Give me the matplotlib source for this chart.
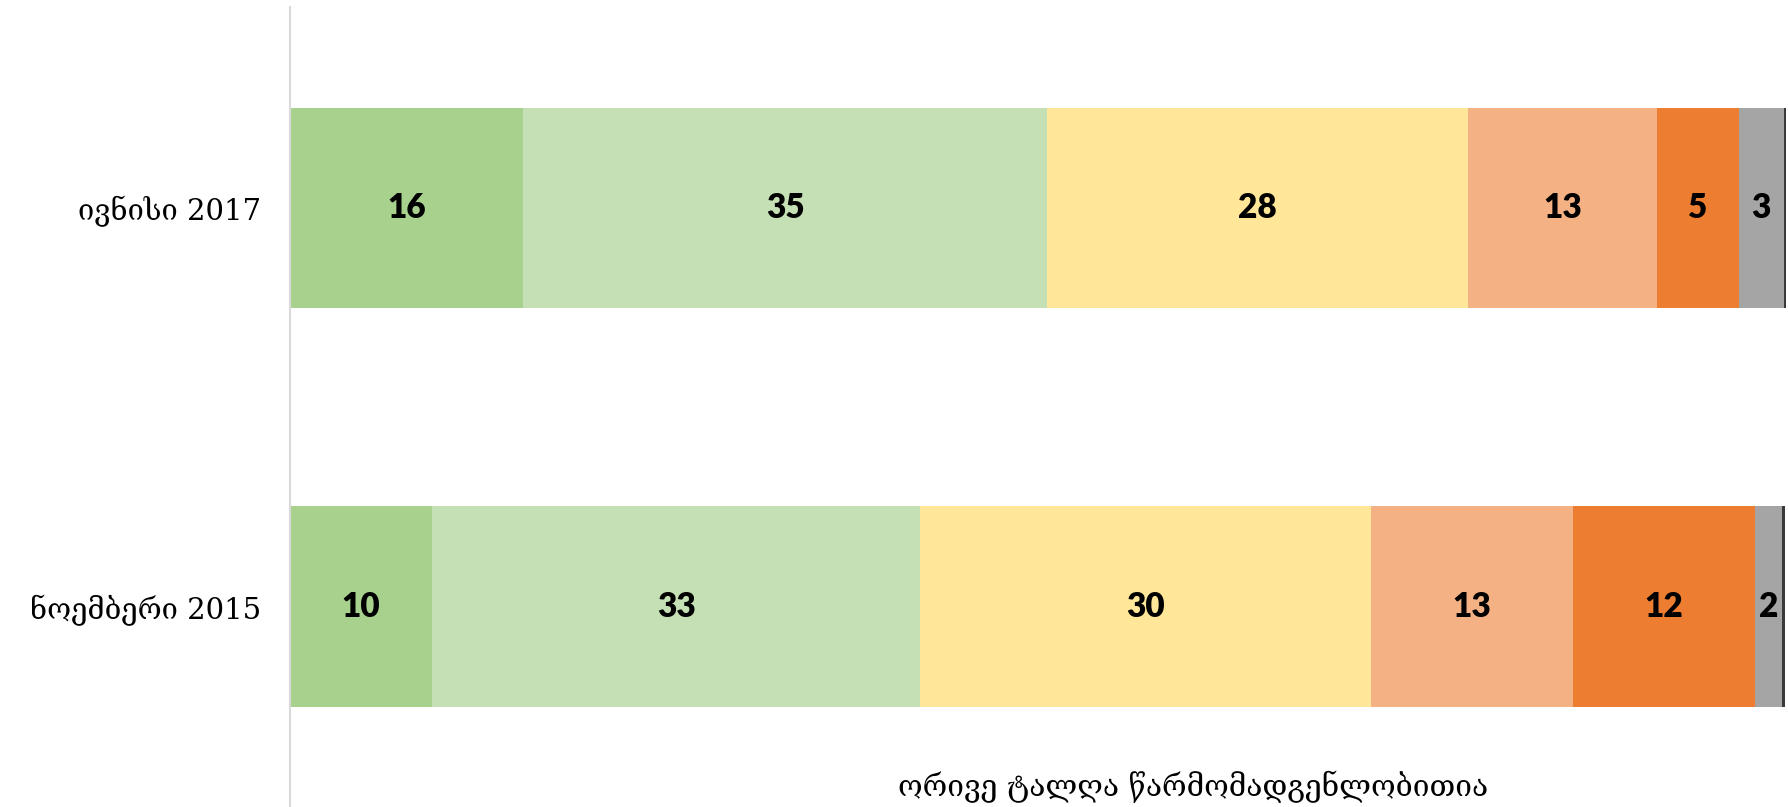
import matplotlib.pyplot as plt

# survey waves (bottom to top)
waves = ['ნოემბერი 2015', 'ივნისი 2017']

# shares per answer category, in percent
very_good = [9.5, 15.6]
good = [32.7, 35.1]
neutral = [30.2, 28.2]
bad = [13.5, 12.6]
very_bad = [12.2, 5.5]
dont_know = [1.8, 3.0]
refused = [0.2, 0.15]

# labels as printed on the bars
labels = [
    ['10', '33', '30', '13', '12', '2'],
    ['16', '35', '28', '13', '5', '3'],
]

colors = ['#A9D18E', '#C5E0B4', '#FFE699', '#F4B183', '#ED7D31', '#A5A5A5', '#3A3A3A']
note = 'ორივე ტალღა წარმომადგენლობითია'

fig = plt.figure(figsize=(17.88, 8.07), dpi=100)
ax = fig.add_axes([290 / 1788, 0, 1 - 290 / 1788, 800 / 807])

series = [very_good, good, neutral, bad, very_bad, dont_know, refused]
y = list(range(len(waves)))
left = [0.0] * len(waves)
for k, vals in enumerate(series):
    ax.barh(y, vals, left=left, height=0.502, color=colors[k], linewidth=0)
    if k < 6:
        for i in range(len(waves)):
            ax.text(left[i] + vals[i] / 2, y[i], labels[i][k], ha='center', va='center',
                    fontsize=24, fontweight='heavy', family='Lato', color='black')
    left = [left[i] + vals[i] for i in range(len(waves))]

ax.set_xlim(0, 100.3)
ax.set_ylim(-0.503, 1.504)
ax.set_yticks(y)
ax.set_yticklabels(waves, family=['DejaVu Serif', 'DejaVu Sans'], fontsize=21)
ax.tick_params(axis='y', length=0, pad=21)
ax.set_xticks([])
for s in ['top', 'right', 'bottom']:
    ax.spines[s].set_visible(False)
ax.spines['left'].set_color('#D9D9D9')
ax.spines['left'].set_linewidth(1.5)

fig.text(1193 / 1788, 1 - 787 / 807, note, ha='center', va='center',
         family=['DejaVu Serif', 'DejaVu Sans'], fontsize=21.5)

fig.savefig('out.png', dpi=100)
